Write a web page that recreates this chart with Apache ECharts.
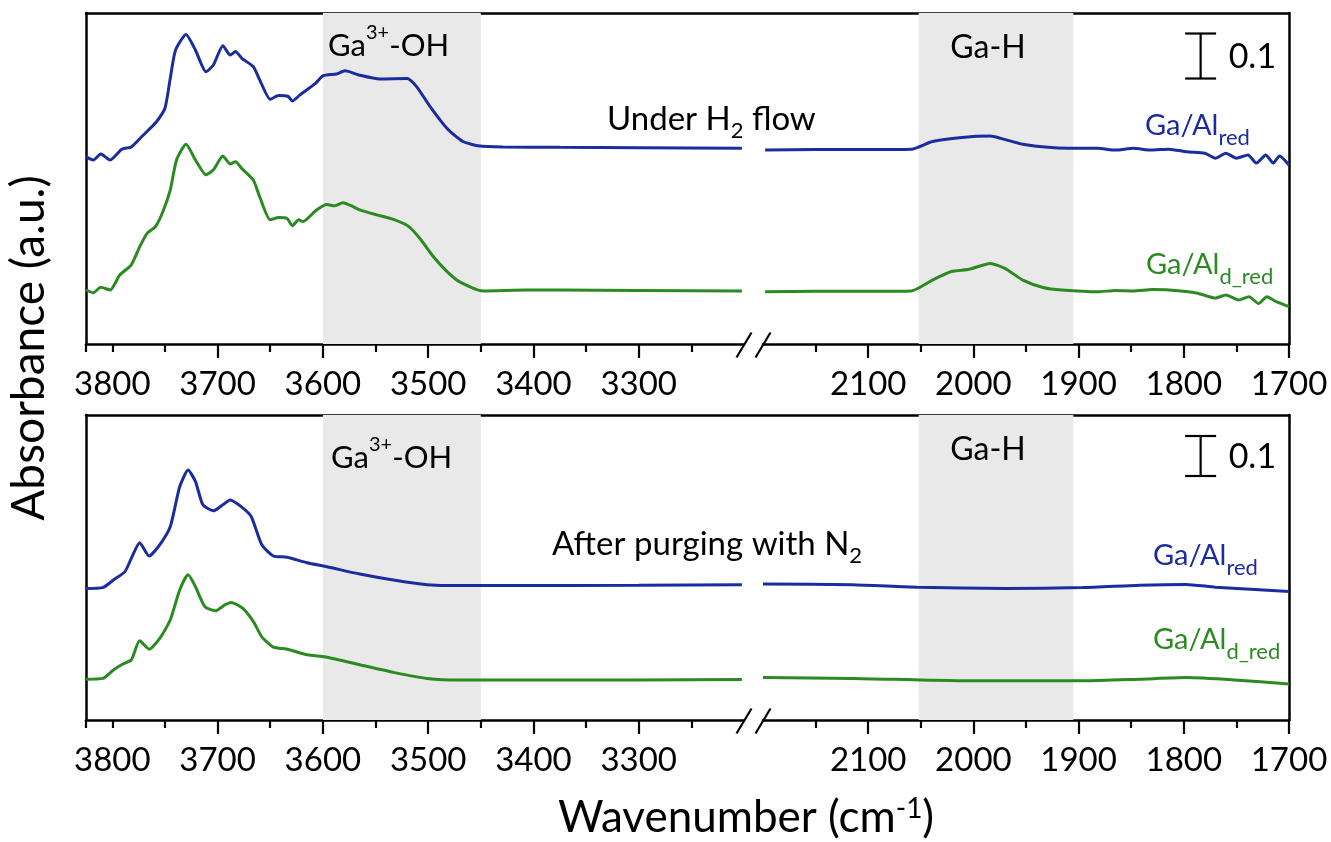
<!DOCTYPE html>
<html><head><meta charset="utf-8">
<script src="https://cdn.jsdelivr.net/npm/echarts@6/dist/echarts.min.js"></script>
<style>html,body{margin:0;padding:0;background:#fff}#c{width:1331px;height:842px}</style>
</head><body><div id="c"></div>
<script>
const FONT = 'Lato';
const BLUE = '#1b2c9e';
const GREEN = '#2b8a22';

// [wavenumber (cm-1), absorbance incl. offset]
const topBlue = [
[3825,0.416],[3818,0.409],[3811,0.422],[3802,0.409],[3791,0.433],[3782,0.438],[3772,0.461],[3758,0.494],[3750,0.524],[3745,0.590],[3740,0.653],[3730,0.688],[3721,0.653],[3711,0.605],[3704,0.620],[3695,0.663],[3688,0.642],[3683,0.650],[3677,0.635],[3666,0.616],[3660,0.587],[3650,0.544],[3642,0.552],[3633,0.550],[3629,0.540],[3622,0.553],[3607,0.579],[3600,0.596],[3587,0.600],[3579,0.607],[3566,0.598],[3546,0.589],[3520,0.590],[3511,0.572],[3498,0.527],[3482,0.479],[3467,0.450],[3451,0.440],[3429,0.438],[3375,0.437],[3300,0.436],[3202,0.435],
[2198,0.431],[2150,0.432],[2100,0.432],[2059,0.433],[2039,0.450],[2011,0.459],[1984,0.462],[1974,0.457],[1953,0.444],[1923,0.436],[1903,0.435],[1882,0.435],[1865,0.431],[1848,0.435],[1831,0.431],[1814,0.433],[1797,0.427],[1780,0.424],[1770,0.413],[1760,0.424],[1750,0.413],[1739,0.420],[1731,0.402],[1722,0.420],[1715,0.402],[1709,0.418],[1700,0.398]
];
const topGreen = [
[3825,0.120],[3818,0.114],[3811,0.126],[3802,0.120],[3793,0.153],[3782,0.176],[3774,0.216],[3767,0.246],[3759,0.261],[3752,0.294],[3745,0.342],[3739,0.409],[3730,0.444],[3721,0.409],[3711,0.376],[3704,0.387],[3695,0.418],[3688,0.400],[3683,0.405],[3677,0.390],[3666,0.364],[3660,0.327],[3650,0.276],[3642,0.281],[3634,0.279],[3629,0.263],[3623,0.276],[3619,0.272],[3606,0.298],[3596,0.310],[3589,0.307],[3581,0.314],[3571,0.305],[3565,0.298],[3549,0.287],[3533,0.277],[3519,0.262],[3508,0.235],[3495,0.194],[3482,0.161],[3470,0.138],[3448,0.118],[3406,0.120],[3375,0.120],[3300,0.119],[3202,0.118],
[2198,0.116],[2150,0.117],[2100,0.117],[2059,0.118],[2039,0.142],[2021,0.161],[2004,0.166],[1984,0.179],[1970,0.168],[1953,0.142],[1933,0.125],[1916,0.120],[1882,0.116],[1865,0.119],[1848,0.118],[1830,0.121],[1814,0.120],[1787,0.113],[1770,0.102],[1760,0.109],[1748,0.098],[1738,0.105],[1729,0.090],[1721,0.105],[1712,0.094],[1700,0.083]
];
const botBlue = [
[3825,0.329],[3809,0.331],[3799,0.350],[3788,0.371],[3782,0.404],[3774,0.443],[3765,0.410],[3755,0.438],[3745,0.483],[3736,0.583],[3728,0.625],[3721,0.596],[3714,0.538],[3704,0.523],[3695,0.538],[3688,0.550],[3677,0.532],[3668,0.508],[3658,0.438],[3647,0.410],[3634,0.407],[3615,0.393],[3596,0.383],[3565,0.365],[3533,0.350],[3501,0.338],[3482,0.336],[3432,0.336],[3300,0.337],[3202,0.338],
[2200,0.340],[2115,0.338],[2053,0.332],[1969,0.329],[1896,0.331],[1842,0.337],[1798,0.339],[1770,0.332],[1700,0.321]
];
const botGreen = [
[3825,0.102],[3809,0.104],[3799,0.125],[3790,0.140],[3782,0.150],[3774,0.198],[3765,0.177],[3755,0.204],[3745,0.250],[3736,0.325],[3728,0.363],[3721,0.333],[3712,0.283],[3702,0.273],[3693,0.288],[3687,0.294],[3676,0.279],[3666,0.246],[3658,0.208],[3647,0.182],[3634,0.177],[3615,0.163],[3596,0.157],[3565,0.138],[3533,0.119],[3501,0.104],[3470,0.100],[3432,0.100],[3300,0.100],[3202,0.101],
[2200,0.106],[2115,0.104],[2006,0.098],[1896,0.098],[1842,0.102],[1798,0.106],[1752,0.100],[1700,0.090]
];

const rangeL = [3200, 3825];
const rangeR = [1700, 2200];
const majorTicksL = [3300, 3400, 3500, 3600, 3700];
const minorTicksL = [3250, 3350, 3450, 3550, 3650, 3750, 3800, 3825];
const labelTicksL = [3300, 3400, 3500, 3600, 3700, 3800];
const majorTicksR = [1700, 1800, 1900, 2000, 2100];
const minorTicksR = [1750, 1850, 1950, 2050, 2150];
const labelTicksR = [1700, 1800, 1900, 2000, 2100];
const shadeOH = [3600, 3450];
const shadeGaH = [2052, 1905];
const scaleBarTop = [[1784, 0.59, 0.69]];
const scaleBarBot = [[1784, 0.61, 0.71]];
const yMaxTop = 0.7356, yMaxBot = 0.7625;

const chart = echarts.init(document.getElementById('c'), null, {renderer: 'canvas'});

const LX = 86, LW = 658, RX = 763, RW = 526;
const TT = 13, TH = 331, BT = 415, BH = 305;

function xMajor(g, range, ticks, labels) {
  return {type: 'value', gridIndex: g, position: 'bottom', min: range[0], max: range[1], inverse: true,
    axisLine: {show: true, onZero: false, lineStyle: {color: '#000', width: 2.5}},
    axisTick: {show: true, customValues: ticks, length: 14, lineStyle: {color: '#000', width: 2.2}},
    axisLabel: {show: true, customValues: labels, margin: 24, fontSize: 33, fontFamily: FONT, color: '#000',
      formatter: function (v) { return String(v); }},
    splitLine: {show: false}};
}
function xMinor(g, range, ticks) {
  return {type: 'value', gridIndex: g, position: 'bottom', min: range[0], max: range[1], inverse: true,
    axisLine: {show: false, onZero: false},
    axisTick: {show: true, customValues: ticks, length: 8, lineStyle: {color: '#000', width: 2.2}},
    axisLabel: {show: false}, splitLine: {show: false}};
}
function yAx(g, pos, max, showLine) {
  return {type: 'value', gridIndex: g, position: pos, min: 0, max: max,
    axisLine: {show: showLine, onZero: false, lineStyle: {color: '#000', width: 2.5}},
    axisTick: {show: false}, axisLabel: {show: false}, splitLine: {show: false}};
}

function lineSeries(data, xi, yi, color, left) {
  return {type: 'line', xAxisIndex: xi, yAxisIndex: yi, z: 3, showSymbol: false, smooth: 0.2,
    data: data.filter(p => left ? p[0] >= 3000 : p[0] < 3000),
    lineStyle: {color: color, width: 3}, itemStyle: {color: color}, silent: true};
}
function shadeSeries(xi, yi, range) {
  return {type: 'line', xAxisIndex: xi, yAxisIndex: yi, z: 1, data: [], silent: true,
    markArea: {silent: true, itemStyle: {color: '#e9e9e9'}, label: {show: false},
      data: [[{xAxis: range[0]}, {xAxis: range[1]}]]}};
}
function scaleBar(xi, yi, data) {
  return {type: 'custom', xAxisIndex: xi, yAxisIndex: yi, z: 4, silent: true, data: data,
    encode: {x: 0, y: [1, 2]},
    renderItem: function (params, api) {
      const p0 = api.coord([api.value(0), api.value(1)]);
      const p1 = api.coord([api.value(0), api.value(2)]);
      const cw = 15.5;
      const st = {stroke: '#000', lineWidth: 2.2};
      return {type: 'group', children: [
        {type: 'line', shape: {x1: p0[0], y1: p0[1], x2: p1[0], y2: p1[1]}, style: st},
        {type: 'line', shape: {x1: p0[0] - cw, y1: p0[1], x2: p0[0] + cw, y2: p0[1]}, style: st},
        {type: 'line', shape: {x1: p1[0] - cw, y1: p1[1], x2: p1[0] + cw, y2: p1[1]}, style: st},
        {type: 'text', x: p0[0] + 28, y: (p0[1] + p1[1]) / 2 + 1,
          style: {text: '0.1', fontSize: 34, fontFamily: FONT, fill: '#000', align: 'left', verticalAlign: 'middle'}}
      ]};
    }};
}

chart.setOption({
  animation: false,
  backgroundColor: '#fff',
  grid: [
    {left: LX, top: TT, width: LW, height: TH},
    {left: RX, top: TT, width: RW, height: TH},
    {left: LX, top: BT, width: LW, height: BH},
    {left: RX, top: BT, width: RW, height: BH},
    {left: LX, top: TT, width: RX + RW - LX, height: TH},
    {left: LX, top: BT, width: RX + RW - LX, height: BH}
  ],
  xAxis: [
    xMajor(0, rangeL, majorTicksL, labelTicksL), xMinor(0, rangeL, minorTicksL),
    xMajor(1, rangeR, majorTicksR, labelTicksR), xMinor(1, rangeR, minorTicksR),
    xMajor(2, rangeL, majorTicksL, labelTicksL), xMinor(2, rangeL, minorTicksL),
    xMajor(3, rangeR, majorTicksR, labelTicksR), xMinor(3, rangeR, minorTicksR),
    {type: 'value', gridIndex: 4, position: 'top', min: 0, max: 1, axisLine: {show: true, onZero: false, lineStyle: {color: '#000', width: 2.5}}, axisTick: {show: false}, axisLabel: {show: false}, splitLine: {show: false}},
    {type: 'value', gridIndex: 5, position: 'top', min: 0, max: 1, axisLine: {show: true, onZero: false, lineStyle: {color: '#000', width: 2.5}}, axisTick: {show: false}, axisLabel: {show: false}, splitLine: {show: false}}
  ],
  yAxis: [
    yAx(0, 'left', yMaxTop, true), yAx(1, 'right', yMaxTop, true),
    yAx(2, 'left', yMaxBot, true), yAx(3, 'right', yMaxBot, true),
    yAx(4, 'left', 1, false), yAx(5, 'left', 1, false)
  ],
  series: [
    shadeSeries(0, 0, shadeOH), shadeSeries(2, 1, shadeGaH),
    shadeSeries(4, 2, shadeOH), shadeSeries(6, 3, shadeGaH),
    lineSeries(topBlue, 0, 0, BLUE, true), lineSeries(topBlue, 2, 1, BLUE, false),
    lineSeries(topGreen, 0, 0, GREEN, true), lineSeries(topGreen, 2, 1, GREEN, false),
    lineSeries(botBlue, 4, 2, BLUE, true), lineSeries(botBlue, 6, 3, BLUE, false),
    lineSeries(botGreen, 4, 2, GREEN, true), lineSeries(botGreen, 6, 3, GREEN, false),
    scaleBar(2, 1, scaleBarTop), scaleBar(6, 3, scaleBarBot)
  ]
});

function richStyle(color, size, subSize, supSize) {
  return {
    m: {fontSize: size, fontFamily: FONT, color: color, lineHeight: 46},
    sub: {fontSize: subSize, fontFamily: FONT, color: color, lineHeight: subSize + 2, verticalAlign: 'bottom'},
    sup: {fontSize: supSize, fontFamily: FONT, color: color, lineHeight: supSize + 4, verticalAlign: 'top'}
  };
}
function label(x, y, text, color, size, align, subSize, supSize) {
  return {type: 'text', x: x, y: y, z: 10, silent: true,
    style: {text: text, rich: richStyle(color, size, subSize || Math.round(size * 0.7), supSize || Math.round(size * 0.66)),
      fill: color, align: align || 'left', verticalAlign: 'middle'}};
}

// axis break marks, placed at the grid ends via the axes
const breaks = [];
[[0, 0, 2, 1], [4, 2, 6, 3]].forEach(function (a) {
  const pL = chart.convertToPixel({xAxisIndex: a[0], yAxisIndex: a[1]}, [rangeL[0], 0]);
  const pR = chart.convertToPixel({xAxisIndex: a[2], yAxisIndex: a[3]}, [rangeR[1], 0]);
  [pL, pR].forEach(function (p) {
    breaks.push({type: 'line', z: 10, silent: true, shape: {x1: p[0] - 7.5, y1: p[1] + 13.5, x2: p[0] + 7.5, y2: p[1] - 11.5},
      style: {stroke: '#000', lineWidth: 2.2}});
  });
});

chart.setOption({
  graphic: breaks.concat([
    label(328, 46, '{m|Ga}{sup|3+}{m|-OH}', '#000', 31),
    label(988, 48, '{m|Ga-H}', '#000', 32, 'center'),
    label(607, 119, '{m|Under H}{sub|2}{m| flow}', '#000', 33, 'left', 22),
    label(1145, 126, '{m|Ga/Al}{sub|red}', BLUE, 29, 'left', 22),
    label(1146, 265, '{m|Ga/Al}{sub|d_red}', GREEN, 29, 'left', 22),
    label(331, 458, '{m|Ga}{sup|3+}{m|-OH}', '#000', 31),
    label(988, 450, '{m|Ga-H}', '#000', 32, 'center'),
    label(552, 544, '{m|After purging with N}{sub|2}', '#000', 33, 'left', 22),
    label(1153, 556, '{m|Ga/Al}{sub|red}', BLUE, 29, 'left', 22),
    label(1153, 640, '{m|Ga/Al}{sub|d_red}', GREEN, 29, 'left', 22),
    label(746, 818, '{m|Wavenumber (cm}{sup|-1}{m|)}', '#000', 44, 'center', 28, 28),
    {type: 'text', x: 29, y: 348, rotation: Math.PI / 2, z: 10, silent: true,
      style: {text: 'Absorbance (a.u.)', fontSize: 46, fontFamily: FONT, fill: '#000', align: 'center', verticalAlign: 'middle'}}
  ])
});
</script>
</body></html>
